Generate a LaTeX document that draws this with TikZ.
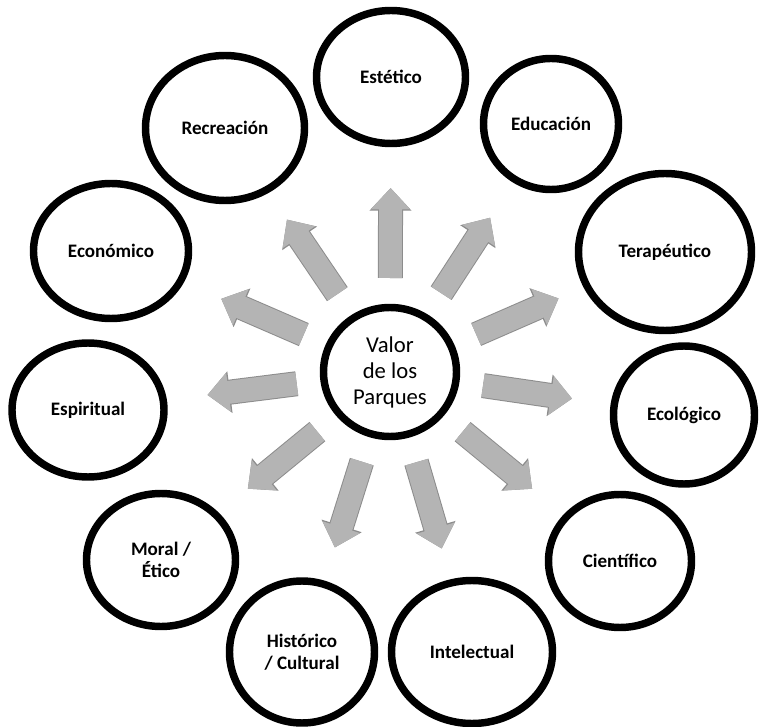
\documentclass[tikz,border=0pt]{standalone}
\usepackage{fontspec}
\setmainfont{Carlito}
\usetikzlibrary{shapes.geometric,arrows.meta,calc}

\definecolor{arrowfill}{RGB}{180,180,180}
\definecolor{arrowedge}{RGB}{140,140,140}

\begin{document}
\begin{tikzpicture}[x=0.75pt,y=0.75pt,
  dims/.style 2 args={minimum width=#1*0.75pt, minimum height=#2*0.75pt},
  value/.style={ellipse, draw=black, line width=5.6pt, inner sep=0pt, align=center,
    font=\bfseries\fontsize{14.3}{16.5}\selectfont},
  core/.style={ellipse, draw=black, line width=5.6pt, inner sep=0pt, align=center,
    font=\fontsize{17}{19.5}\selectfont},
  blockarrow/.style={line width=17.25pt, draw=arrowfill, -{Triangle[width=28.5pt,length=16pt]},
    preaction={draw=arrowedge, line width=18.75pt, -{Triangle[width=30.5pt,length=17pt]}}}]

  % Frame
  \useasboundingbox (0,0) rectangle (761,-727);

  % Centre
  \node[core, dims={133}{129}] (valor) at (390,-372) {Valor\\de los\\Parques};

  % Values, clockwise from the top
  \node[value, dims={149}{133}] (est) at (391,-77)  {Estético};
  \node[value, dims={135}{131}] (edu) at (551,-124) {Educación};
  \node[value, dims={173}{157}] (ter) at (665,-252) {Terapéutico};
  \node[value, dims={141}{138}] (eco) at (684,-415) {Ecológico};
  \node[value, dims={143}{133}] (cie) at (620,-561) {Científico};
  \node[value, dims={161}{143}] (int) at (472,-652) {Intelectual};
  \node[value, dims={145}{142}] (his) at (302,-652) {Histórico\\/ Cultural};
  \node[value, dims={149}{133}] (mor) at (161,-560) {Moral /\\Ético};
  \node[value, dims={152}{134}] (esp) at (88,-410)  {Espiritual};
  \node[value, dims={155}{135}] (ecn) at (111,-251) {Económico};
  \node[value, dims={159}{145}] (rec) at (225,-128) {Recreación};

  % Arrows
  \foreach \t in {est,edu,ter,eco,cie,int,his,mor,esp,ecn,rec}
    \draw[blockarrow] ($(valor.center)!70.5pt!(\t.center)$) -- ($(valor.center)!138pt!(\t.center)$);

\end{tikzpicture}
\end{document}
